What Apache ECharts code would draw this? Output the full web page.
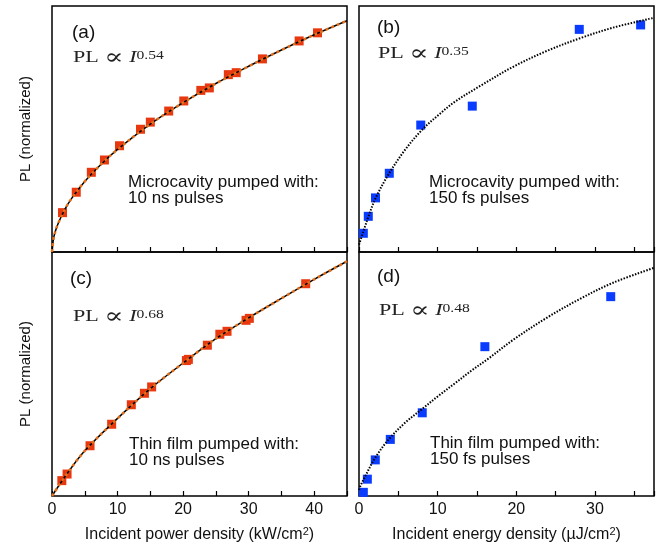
<!DOCTYPE html>
<html>
<head>
<meta charset="utf-8">
<script src="https://cdn.jsdelivr.net/npm/echarts@6/dist/echarts.min.js"></script>
<style>
  html, body { margin: 0; padding: 0; background: #fff; }
  #chart { width: 661px; height: 550px; }
</style>
</head>
<body>
<div id="chart"></div>
<script>
// (a) microcavity, 10 ns pulses
const aX = [1.6, 3.7, 6.0, 8.0, 10.3, 13.5, 15.0, 17.8, 20.1, 22.7, 24.0, 26.9, 28.1, 32.1, 37.7, 40.5]
const aY = [0.160, 0.243, 0.324, 0.374, 0.432, 0.499, 0.528, 0.573, 0.614, 0.657, 0.667, 0.721, 0.729, 0.785, 0.858, 0.891]
const aFitX = [0, 0.25, 0.5, 1, 2, 3, 5, 7.5, 10, 15, 20, 25, 30, 35, 40, 45]
const aFitY = [0, 0.057, 0.083, 0.120, 0.175, 0.218, 0.287, 0.357, 0.417, 0.520, 0.607, 0.685, 0.755, 0.821, 0.883, 0.940]

// (b) microcavity, 150 fs pulses
const bX = [0.55, 1.18, 2.1, 3.85, 7.85, 14.4, 28.0, 35.8]
const bY = [0.076, 0.145, 0.220, 0.320, 0.516, 0.593, 0.905, 0.923]
const bFitX = [0, 0.55, 1.2, 2.1, 3.7, 5.85, 8, 10.1, 12.2, 15.4, 19.6, 23.85, 28.1, 32.3, 37.5]
const bFitY = [0.03, 0.083, 0.144, 0.218, 0.313, 0.415, 0.496, 0.557, 0.611, 0.675, 0.753, 0.817, 0.869, 0.912, 0.952]

// (c) thin film, 10 ns pulses
const cX = [1.5, 2.3, 5.8, 9.1, 12.1, 14.1, 15.2, 20.5, 20.8, 23.7, 25.6, 26.7, 29.6, 30.1, 38.7]
const cY = [0.063, 0.090, 0.206, 0.294, 0.374, 0.421, 0.447, 0.555, 0.560, 0.618, 0.663, 0.675, 0.720, 0.728, 0.870]
const cFitX = [0, 2, 5, 10, 15, 20, 25, 30, 35, 40, 45]
const cFitY = [0, 0.08, 0.185, 0.318, 0.44, 0.545, 0.645, 0.73, 0.81, 0.888, 0.962]

// (d) thin film, 150 fs pulses
const dX = [0.55, 1.06, 2.07, 3.98, 8.04, 16.0, 32.0]
const dY = [0.015, 0.069, 0.148, 0.232, 0.341, 0.612, 0.817]
const dFitX = [0, 0.13, 0.76, 2.03, 3.72, 5.85, 7.96, 10.08, 12.2, 14.3, 16.4, 19.6, 23.85, 28.1, 32.3, 37.5]
const dFitY = [0.025, 0.038, 0.079, 0.155, 0.230, 0.300, 0.355, 0.410, 0.462, 0.514, 0.562, 0.640, 0.730, 0.808, 0.874, 0.935]

const exponents = ['0.54', '0.35', '0.68', '0.48']
const notes = [
  ['Microcavity pumped with:', '10 ns pulses'],
  ['Microcavity pumped with:', '150 fs pulses'],
  ['Thin film pumped with:', '10 ns pulses'],
  ['Thin film pumped with:', '150 fs pulses']
]

const sans = '"Liberation Sans", Arial, Helvetica, sans-serif'
const serif = '"Liberation Serif", "Times New Roman", serif'
const red = '#e8380f'
const orange = '#e2701c'
const blue = '#0a3cff'

const pairs = (xs, ys) => xs.map((x, i) => [x, ys[i]])

const grids = [
  { left: 52, top: 6, width: 295, height: 246 },
  { left: 359, top: 6, width: 295, height: 246 },
  { left: 52, top: 252, width: 295, height: 244 },
  { left: 359, top: 252, width: 295, height: 244 }
].map(g => Object.assign(g, { show: true, borderColor: '#000', borderWidth: 1.5, containLabel: false, outerBoundsMode: 'none' }))

const xMax = [45, 37.5, 45, 37.5]
const xNames = [
  '',
  '',
  '{a|Incident power density (kW/cm}{s|2}{a|)}',
  '{a|Incident energy density (\u00b5J/cm}{s|2}{a|)}'
]

const xAxes = xMax.map((max, i) => ({
  type: 'value',
  gridIndex: i,
  min: 0,
  max: max,
  interval: 5,
  axisLine: { show: false },
  axisTick: { show: true, inside: true, length: 5, lineStyle: { color: '#000', width: 1.2 } },
  splitLine: { show: false },
  axisLabel: {
    show: i >= 2,
    margin: 6,
    fontSize: 16,
    fontFamily: sans,
    color: '#111',
    formatter: v => (v % 10 === 0 ? String(v) : '')
  },
  name: xNames[i],
  nameLocation: 'middle',
  nameGap: 30,
  nameTextStyle: {
    rich: {
      a: { fontSize: 16, fontFamily: sans, color: '#111', lineHeight: 18 },
      s: { fontSize: 11, fontFamily: sans, color: '#111', lineHeight: 11, verticalAlign: 'top' }
    }
  }
}))

const yAxes = [0, 1, 2, 3].map(i => ({
  type: 'value',
  gridIndex: i,
  min: 0,
  max: 1,
  axisLine: { show: false },
  axisTick: { show: false },
  axisLabel: { show: false },
  splitLine: { show: false },
  name: i % 2 === 0 ? 'PL (normalized)' : '',
  nameLocation: 'middle',
  nameGap: 19,
  nameTextStyle: { fontSize: 15, fontFamily: sans, color: '#111' }
}))

function dots(idx, xs, ys, color, size) {
  return {
    type: 'scatter', xAxisIndex: idx, yAxisIndex: idx, z: 2,
    symbol: 'rect', symbolSize: size,
    itemStyle: { color: color, opacity: 1 },
    data: pairs(xs, ys)
  }
}

function fit(idx, xs, ys, color, width, dash, z) {
  return {
    type: 'line', xAxisIndex: idx, yAxisIndex: idx, z: z,
    showSymbol: false, smooth: 0.35,
    lineStyle: { color: color, width: width, type: dash },
    data: pairs(xs, ys)
  }
}

const series = [
  dots(0, aX, aY, red, 9),
  fit(0, aFitX, aFitY, '#000', 1.5, 'solid', 3),
  fit(0, aFitX, aFitY, orange, 2.5, [3, 3], 4),
  dots(1, bX, bY, blue, 9),
  fit(1, bFitX, bFitY, '#000', 2, [1.5, 1.5], 3),
  dots(2, cX, cY, red, 9),
  fit(2, cFitX, cFitY, '#000', 1.5, 'solid', 3),
  fit(2, cFitX, cFitY, orange, 2.5, [3, 3], 4),
  dots(3, dX, dY, blue, 9),
  fit(3, dFitX, dFitY, '#000', 2, [1.5, 1.5], 3)
]

// text positions per panel: tag, formula, note
const tagPos = [[72, 33], [377, 28], [70, 279], [377, 277]]
const formulaPos = [[73, 58], [378, 54], [73, 317], [379, 311]]
const notePos = [[128, 182], [429, 182], [129, 444], [430, 443]]
const tags = ['(a)', '(b)', '(c)', '(d)']

const graphics = []
tags.forEach((t, i) => {
  graphics.push({
    type: 'text', x: tagPos[i][0], y: tagPos[i][1],
    style: { text: t, font: '19px ' + sans, fill: '#111', verticalAlign: 'middle' }
  })
  // the printed formula is set wide, so stretch it horizontally
  graphics.push({
    type: 'text', x: formulaPos[i][0], y: formulaPos[i][1], scaleX: 1.3,
    style: {
      text: '{m|PL}{g| }{p|\u221d}{g| }{i|I}{s|' + exponents[i] + '}',
      verticalAlign: 'middle',
      rich: {
        m: { fontSize: 17, fontFamily: serif, fill: '#222', lineHeight: 17 },
        g: { fontSize: 17, fontFamily: serif, fill: '#222', lineHeight: 17 },
        p: { fontSize: 22, fontFamily: '"DejaVu Serif", serif', fill: '#222', lineHeight: 17 },
        i: { fontSize: 17, fontFamily: serif, fontStyle: 'italic', fill: '#222', lineHeight: 17 },
        s: { fontSize: 12, fontFamily: serif, fill: '#222', lineHeight: 11, verticalAlign: 'top' }
      }
    }
  })
  notes[i].forEach((line, k) => {
    graphics.push({
      type: 'text', x: notePos[i][0], y: notePos[i][1] + k * 16,
      style: { text: line, font: '17px ' + sans, fill: '#111', verticalAlign: 'middle' }
    })
  })
})

const chart = echarts.init(document.getElementById('chart'))
chart.setOption({
  animation: false,
  backgroundColor: '#fff',
  grid: grids,
  xAxis: xAxes,
  yAxis: yAxes,
  series: series,
  graphic: graphics
})
</script>
</body>
</html>
